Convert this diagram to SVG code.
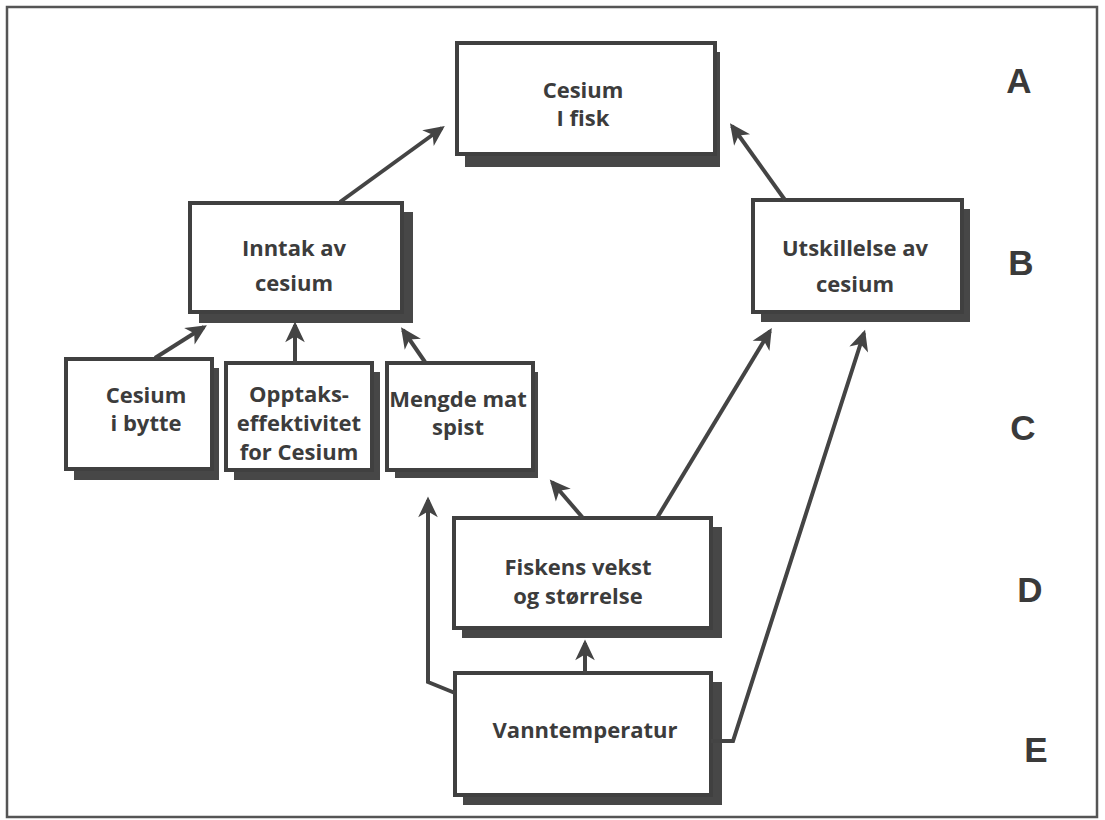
<svg xmlns="http://www.w3.org/2000/svg" width="1105" height="820" viewBox="0 0 1105 820">
<style>
.box{fill:#fff;stroke:#404040;stroke-width:4}
.sh{fill:#474747}
.t{font-family:"Open Sans","Noto Sans",sans-serif;font-weight:700;font-size:22px;fill:#3c3c3c;text-anchor:middle}
.lv{font-family:"Liberation Sans",Arial,sans-serif;font-weight:700;font-size:35px;fill:#3a3a3a;text-anchor:middle}
.c{fill:none;stroke:#444;stroke-width:4;stroke-linejoin:miter}
</style>
<defs>
<marker id="ah" markerUnits="userSpaceOnUse" markerWidth="30" markerHeight="30" viewBox="-20 -12 26 24" refX="0" refY="0" orient="auto">
<path d="M3,0 L-15,-8.5 L-10,0 L-15,8.5 Z" fill="#444"/>
</marker>
</defs>
<rect x="7" y="7" width="1090" height="810" fill="#fff" stroke="#555" stroke-width="2.5"/>
<g id="nodeA">
<rect class="sh" x="465" y="52" width="255" height="115"/>
<rect class="box" x="457" y="43" width="258" height="111"/>
<text class="t" x="583" y="98">Cesium</text>
<text class="t" x="583" y="126">I fisk</text>
</g>
<g id="nodeInntak">
<rect class="sh" x="199" y="212" width="214" height="111"/>
<rect class="box" x="190" y="203" width="212" height="109"/>
<text class="t" x="294" y="256">Inntak av</text>
<text class="t" x="294" y="291">cesium</text>
</g>
<g id="nodeUtskillelse">
<rect class="sh" x="761" y="209" width="209" height="113"/>
<rect class="box" x="753" y="200" width="209" height="112"/>
<text class="t" x="855" y="256">Utskillelse av</text>
<text class="t" x="855" y="292">cesium</text>
</g>
<g id="nodeBytte">
<rect class="sh" x="74" y="368" width="145" height="112"/>
<rect class="box" x="66" y="359" width="146" height="110"/>
<text class="t" x="146" y="403">Cesium</text>
<text class="t" x="146" y="431">i bytte</text>
</g>
<g id="nodeOpptak">
<rect class="sh" x="234" y="372" width="146" height="108"/>
<rect class="box" x="226" y="363" width="146" height="107"/>
<text class="t" x="299" y="402">Opptaks-</text>
<text class="t" x="299" y="431">effektivitet</text>
<text class="t" x="299" y="460">for Cesium</text>
</g>
<g id="nodeMengde">
<rect class="sh" x="395" y="372" width="143" height="106"/>
<rect class="box" x="387" y="363" width="146" height="107"/>
<text class="t" x="458" y="407">Mengde mat</text>
<text class="t" x="458" y="435">spist</text>
</g>
<g id="nodeFiskens">
<rect class="sh" x="462" y="527" width="260" height="111"/>
<rect class="box" x="454" y="518" width="257" height="110"/>
<text class="t" x="578" y="575">Fiskens vekst</text>
<text class="t" x="578" y="604">og størrelse</text>
</g>
<g id="nodeVann">
<rect class="sh" x="463" y="682" width="259" height="123"/>
<rect class="box" x="455" y="673" width="256" height="122"/>
<text class="t" x="585" y="738">Vanntemperatur</text>
</g>
<g id="levels">
<text class="lv" x="1019" y="93">A</text>
<text class="lv" x="1021" y="275">B</text>
<text class="lv" x="1023" y="440">C</text>
<text class="lv" x="1030" y="602">D</text>
<text class="lv" x="1036" y="762">E</text>
</g>
<g id="connectors">
<path class="c" marker-end="url(#ah)" d="M340,202 L442,128"/>
<path class="c" marker-end="url(#ah)" d="M785,200 L732,126"/>
<path class="c" marker-end="url(#ah)" d="M155,358 L204,327"/>
<path class="c" marker-end="url(#ah)" d="M295,363 L295,325"/>
<path class="c" marker-end="url(#ah)" d="M425,362 L403,330"/>
<path class="c" marker-end="url(#ah)" d="M583,518 L552,482"/>
<path class="c" marker-end="url(#ah)" d="M657,518 L770,331"/>
<path class="c" marker-end="url(#ah)" d="M711,741 L733,741 L864,333"/>
<path class="c" marker-end="url(#ah)" d="M455,693 L428,682 L428,500"/>
<path class="c" marker-end="url(#ah)" d="M585,673 L585,643"/>
</g>
</svg>
